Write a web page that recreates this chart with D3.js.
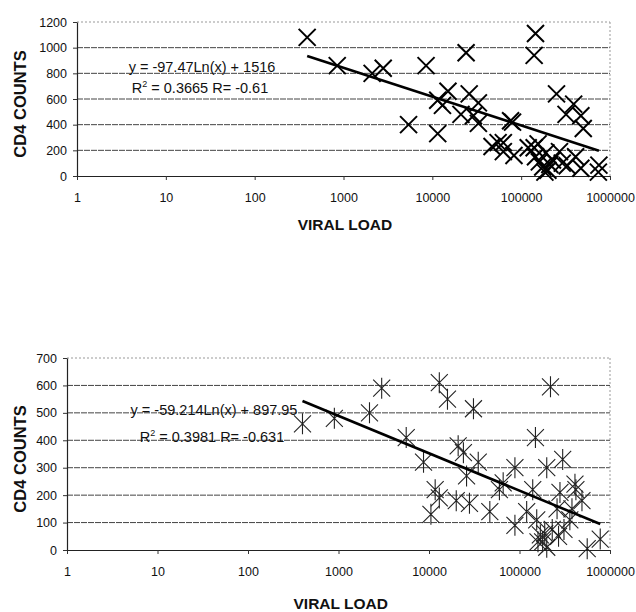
<!DOCTYPE html>
<html>
<head>
<meta charset="utf-8">
<script src="https://cdn.jsdelivr.net/npm/d3@7"></script>
<style>
body { margin: 0; background: #fff; }
text { font-family: Arial, "Liberation Sans", sans-serif; fill: #111; }
</style>
</head>
<body>
<svg id="svg_elem"></svg>
<script>
//define data (viral load, cd4 count)
const topLoad = [390, 850, 2100, 2800, 8500, 24000, 145000, 140000,
	5400, 11500, 11500, 13000, 15000, 26000, 33000, 21000, 29000, 33000, 55000, 63000, 76000, 63000, 80000, 83000,
	250000, 390000, 320000, 470000, 500000, 120000, 140000, 155000, 190000, 225000, 175000, 200000, 290000,
	410000, 470000, 750000, 740000, 145000, 270000, 160000, 210000, 185000, 330000, 47000];
const topCd4 = [1080, 860, 800, 840, 860, 960, 1110, 940,
	400, 330, 590, 550, 660, 640, 570, 480, 470, 410, 260, 190, 430, 260, 420, 160,
	640, 560, 480, 470, 370, 220, 220, 250, 180, 125, 70, 45, 100,
	150, 60, 85, 30, 150, 190, 110, 90, 30, 80, 230];

const botLoad = [400, 900, 2200, 3000, 5600, 8700, 13000, 16000, 31000, 150000, 220000,
	21000, 24000, 26000, 35000, 11700, 13000, 10500, 20000, 28000, 47000, 60000, 66000,
	89000, 200000, 300000, 140000, 410000, 420000, 490000, 260000, 89000, 155000, 170000,
	180000, 160000, 200000, 360000, 310000, 560000, 780000, 380000, 230000, 270000, 120000, 280000, 190000];
const botCd4 = [460, 480, 500, 590, 410, 320, 610, 550, 515, 410, 595,
	380, 355, 270, 320, 220, 190, 130, 180, 170, 140, 220, 245,
	300, 300, 330, 220, 240, 220, 180, 150, 90, 110, 55,
	30, 30, 10, 110, 75, 5, 40, 150, 75, 50, 140, 210, 60];

//tick values
const xTicks = [1, 10, 100, 1000, 10000, 100000, 1000000];
const topYTicks = [0, 200, 400, 600, 800, 1000, 1200];
const botYTicks = [0, 100, 200, 300, 400, 500, 600, 700];

//trendline coefficients y = a*ln(x) + b
const topFit = {a: -97.47, b: 1516, from: 390, to: 750000};
const botFit = {a: -59.214, b: 897.95, from: 400, to: 780000};
const topLabels = ['y = -97.47Ln(x) + 1516', '0.3665 R= -0.61'];
const botLabels = ['y = -59.214Ln(x) + 897.95', '0.3981 R= -0.631'];

//configure svg window
const svgWidth = 636;
const svgHeight = 612;
var svgSelection = d3.select('#svg_elem')
	.attr('width', svgWidth)
	.attr('height', svgHeight);

svgSelection.append('rect')
	.attr('width', svgWidth)
	.attr('height', svgHeight)
	.attr('fill', '#fff');

drawChart({
	load: topLoad, cd4: topCd4, yTicks: topYTicks, fit: topFit, labels: topLabels,
	left: 77, right: 610, top: 22, bottom: 176,
	eqX: 202, eqY: 72, r2Y: 93, yTitleX: 20, xTitleY: 230,
	marker: 'cross'
});

drawChart({
	load: botLoad, cd4: botCd4, yTicks: botYTicks, fit: botFit, labels: botLabels,
	left: 67, right: 610, top: 358, bottom: 550,
	eqX: 214, eqY: 415, r2Y: 442, yTitleX: 20, xTitleY: 609,
	marker: 'star'
});

function drawChart(c){
	var g = svgSelection.append('g');

	//define scales
	var xScale = d3.scaleLog()
		.domain([1, 1000000])
		.range([c.left, c.right]);
	var yScale = d3.scaleLinear()
		.domain([0, d3.max(c.yTicks)])
		.range([c.bottom, c.top]);

	//gridlines
	g.selectAll('.grid')
		.data(c.yTicks.filter(d => d > 0))
		.enter()
		.append('line')
		.attr('x1', c.left)
		.attr('x2', c.right)
		.attr('y1', d => yScale(d))
		.attr('y2', d => yScale(d))
		.attr('stroke', d => d == d3.max(c.yTicks) ? '#999' : '#444')
		.attr('stroke-width', 1)
		.attr('stroke-dasharray', d => d == d3.max(c.yTicks) ? '2,2' : '6,1');

	//right border
	g.append('line')
		.attr('x1', c.right).attr('x2', c.right)
		.attr('y1', c.top).attr('y2', c.bottom)
		.attr('stroke', '#999')
		.attr('stroke-dasharray', '2,2');

	//axes
	var xAxis = d3.axisBottom(xScale)
		.tickValues(xTicks)
		.tickFormat(d3.format('d'))
		.tickSize(4)
		.tickSizeOuter(0)
		.tickPadding(13);
	var yAxis = d3.axisLeft(yScale)
		.tickValues(c.yTicks)
		.tickFormat(d3.format('d'))
		.tickSize(4)
		.tickSizeOuter(0)
		.tickPadding(6);

	var xg = g.append('g')
		.attr('transform', `translate(0, ${c.bottom})`)
		.call(xAxis);
	var yg = g.append('g')
		.attr('transform', `translate(${c.left}, 0)`)
		.call(yAxis);

	[xg, yg].forEach(a => {
		a.select('.domain').attr('stroke', '#222').attr('stroke-width', 1.2);
		a.selectAll('.tick line').attr('stroke', '#333');
		a.selectAll('text')
			.attr('font-size', 12.5)
			.attr('font-family', 'Arial, "Liberation Sans", sans-serif')
			.attr('fill', '#111');
	});

	//axis titles
	g.append('text')
		.text('VIRAL LOAD')
		.attr('x', (xScale(1000) + xScale(10000)) / 2 - 43)
		.attr('y', c.xTitleY)
		.attr('text-anchor', 'middle')
		.attr('font-size', 15.5)
		.attr('font-weight', 'bold');
	g.append('text')
		.text('CD4 COUNTS')
		.attr('transform', `translate(${c.yTitleX + 6}, ${(c.top + c.bottom) / 2 + 5}) rotate(-90)`)
		.attr('text-anchor', 'middle')
		.attr('font-size', 16.5)
		.attr('font-weight', 'bold');

	//data markers
	var pts = c.load.map((v, i) => [xScale(v), yScale(c.cd4[i])]);
	var h = 8.5;
	var markPath = c.marker == 'cross'
		? `M${-h},${-h}L${h},${h}M${-h},${h}L${h},${-h}`
		: `M${-h},${-h}L${h},${h}M${-h},${h}L${h},${-h}M0,${-h - 2}L0,${h + 2}`;
	g.selectAll('.mark')
		.data(pts)
		.enter()
		.append('path')
		.attr('transform', d => `translate(${d[0]}, ${d[1]})`)
		.attr('d', markPath)
		.attr('fill', 'none')
		.attr('stroke', c.marker == 'cross' ? '#000' : '#222')
		.attr('stroke-width', c.marker == 'cross' ? 2 : 1.1);

	//trendline
	var fitX = [c.fit.from, c.fit.to];
	var line = d3.line()
		.x(d => xScale(d))
		.y(d => yScale(c.fit.a * Math.log(d) + c.fit.b));
	g.append('path')
		.attr('d', line(fitX))
		.attr('fill', 'none')
		.attr('stroke', '#000')
		.attr('stroke-width', 2.6);

	//equation labels
	g.append('text')
		.text(c.labels[0])
		.attr('x', c.eqX)
		.attr('y', c.eqY)
		.attr('text-anchor', 'middle')
		.attr('font-size', 14.5);
	var r2 = g.append('text')
		.attr('x', c.eqX - 2)
		.attr('y', c.r2Y)
		.attr('text-anchor', 'middle')
		.attr('font-size', 14.5);
	r2.append('tspan').text('R');
	r2.append('tspan').text('2').attr('font-size', 9).attr('dy', -6);
	r2.append('tspan').text(' = ' + c.labels[1]).attr('dy', 6);
}
</script>
</body>
</html>
